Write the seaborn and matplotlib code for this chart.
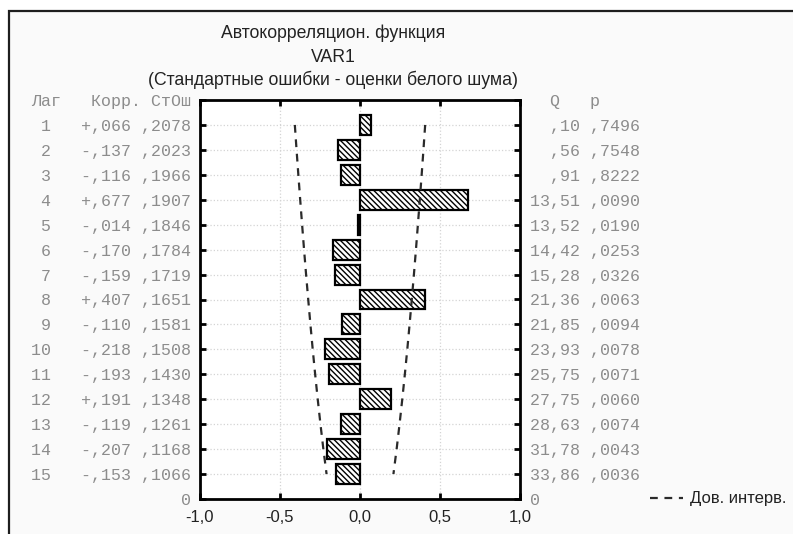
import numpy as np
import pandas as pd
import seaborn as sns
import matplotlib
matplotlib.use("Agg")
import matplotlib.pyplot as plt
from matplotlib.patches import Rectangle
from matplotlib.lines import Line2D

# Autocorrelation table for VAR1
lags = [1, 2, 3, 4, 5, 6, 7, 8, 9, 10, 11, 12, 13, 14, 15]
corr = [0.066, -0.137, -0.116, 0.677, -0.014, -0.170, -0.159, 0.407,
        -0.110, -0.218, -0.193, 0.191, -0.119, -0.207, -0.153]
std_err = [0.2078, 0.2023, 0.1966, 0.1907, 0.1846, 0.1784, 0.1719, 0.1651,
           0.1581, 0.1508, 0.1430, 0.1348, 0.1261, 0.1168, 0.1066]
q_stat = [0.10, 0.56, 0.91, 13.51, 13.52, 14.42, 15.28, 21.36,
          21.85, 23.93, 25.75, 27.75, 28.63, 31.78, 33.86]
p_val = [0.7496, 0.7548, 0.8222, 0.0090, 0.0190, 0.0253, 0.0326, 0.0063,
         0.0094, 0.0078, 0.0071, 0.0060, 0.0074, 0.0043, 0.0036]
x_ticks = [-1.0, -0.5, 0.0, 0.5, 1.0]

title_lines = ["Автокорреляцион. функция", "VAR1",
               "(Стандартные ошибки - оценки белого шума)"]
left_header = "Лаг   Корр. СтОш"
right_header = "  Q   p"
legend_label = "Дов. интерв."

df = pd.DataFrame({"lag": lags, "corr": corr, "se": std_err})
df["ci"] = 1.96 * df["se"]


def frac(v, digits):
    s = f"{abs(v):.{digits}f}"
    return s[1:].replace(".", ",") if s.startswith("0") else s.replace(".", ",")


left_rows = [f"{l:>2}   {'+' if c >= 0 else '-'}{frac(c, 3)} {frac(s, 4)}"
             for l, c, s in zip(lags, corr, std_err)]
right_rows = [f"{frac(q, 2):>5} {frac(p, 4)}" for q, p in zip(q_stat, p_val)]

sns.set_theme(style="white")
plt.rcParams["font.family"] = ["Liberation Sans", "DejaVu Sans"]
plt.rcParams["hatch.color"] = "#404040"
plt.rcParams["hatch.linewidth"] = 1.0

W, H = 793, 534
fig = plt.figure(figsize=(W / 100, H / 100), dpi=100, facecolor="white")

# light panel with a dark frame behind everything
fig.patches.append(Rectangle((9 / W, -0.2), 1.2, (H - 11) / H + 0.2,
                             transform=fig.transFigure, facecolor="#fafafa",
                             edgecolor="#1e1e1e", linewidth=1.6, zorder=-5))

ax = fig.add_axes([200 / W, 35 / H, 320 / W, 399 / H])
ax.set_facecolor("white")

sns.barplot(data=df, x="corr", y="lag", orient="h", native_scale=True,
            width=0.8, color="white", edgecolor="black", linewidth=1.6,
            ax=ax, zorder=3)
for bar in ax.patches:
    bar.set_hatch("\\\\\\\\\\\\")
    bar.set_facecolor("white")

for sign in (-1, 1):
    sns.lineplot(x=sign * df["ci"], y=df["lag"], sort=False, estimator=None,
                 orient="y", color="#2a2a2a", linewidth=1.6,
                 dashes=False, ax=ax, zorder=4)
for ln in ax.lines:
    ln.set_linestyle((0, (3.5, 3)))

ax.set_xlim(-1, 1)
ax.set_ylim(16, 0)
ax.set_xticks(x_ticks)
ax.set_xticklabels([f"{t:.1f}".replace(".", ",") for t in x_ticks],
                   fontsize=12, color="#222222")
yt = list(range(0, 17))
ax.set_yticks(yt)
ax.set_yticklabels([left_header] + left_rows + ["0"],
                   fontfamily="Liberation Mono", fontsize=12, color="#8c8c8c")
ax.set_xlabel("")
ax.set_ylabel("")
ax.grid(True, color="#d4d4d4", linestyle=":", linewidth=0.9, zorder=0)
ax.set_axisbelow(True)
for sp in ax.spines.values():
    sp.set_visible(True)
    sp.set_color("black")
    sp.set_linewidth(2)
ax.tick_params(axis="both", direction="in", length=4, width=2, color="black",
               top=True, bottom=True, left=True)
ax.tick_params(axis="y", pad=6.5)
ax.tick_params(axis="x", pad=8)

ax2 = ax.twinx()
ax2.set_ylim(16, 0)
ax2.set_yticks(yt)
ax2.set_yticklabels([right_header] + right_rows + ["0"],
                    fontfamily="Liberation Mono", fontsize=12, color="#8c8c8c",
                    ha="left")
ax2.tick_params(axis="y", direction="in", length=4, width=2, color="black",
                pad=7)
ax2.grid(False)
for sp in ax2.spines.values():
    sp.set_visible(False)

# title block
for txt, ypx in zip(title_lines, [33, 58, 80]):
    fig.text(333 / W, 1 - ypx / H, txt, ha="center", va="center",
             fontsize=12.7, color="#222222")

handle = Line2D([], [], color="#2a2a2a", linewidth=1.6,
                linestyle=(0, (3.5, 3)))
fig.legend(handles=[handle], labels=[legend_label], loc="center left",
           bbox_to_anchor=(650 / W, 35 / H), frameon=False, fontsize=12,
           handlelength=2.0, handletextpad=0.4, borderpad=0,
           borderaxespad=0, labelcolor="#222222")

fig.savefig("out.png", dpi=100, facecolor="white")
